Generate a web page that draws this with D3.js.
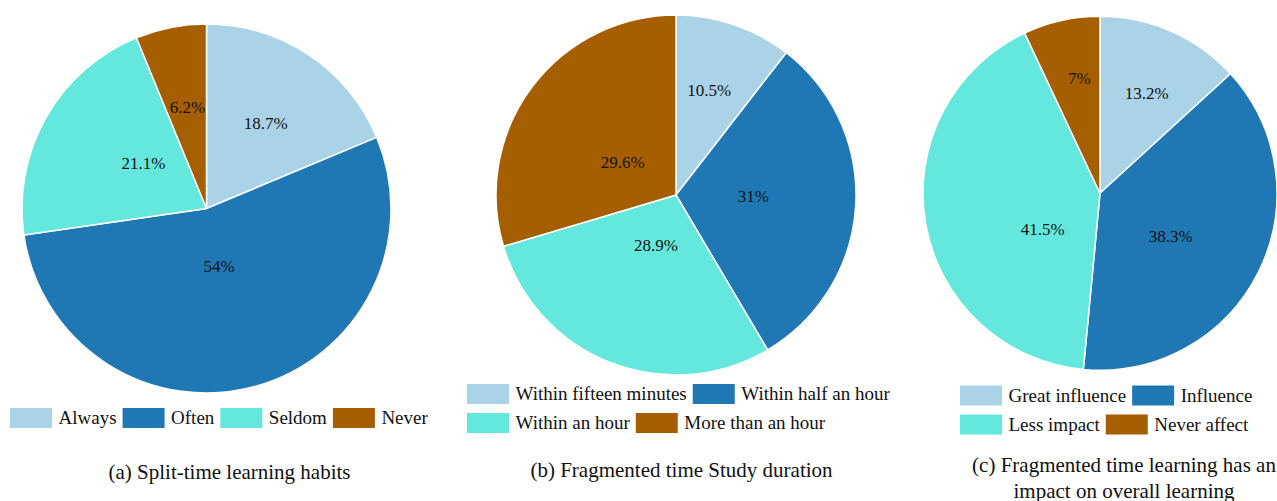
<!DOCTYPE html>
<html>
<head>
<meta charset="utf-8">
<script src="https://cdn.jsdelivr.net/npm/d3@7"></script>
<style>
  html, body { margin: 0; padding: 0; background: #fff; }
  svg { display: block; font-family: "Liberation Serif", "Times New Roman", serif; }
</style>
</head>
<body>
<svg id="chart"></svg>
<script>
// ── DATA ────────────────────────────────────────────────────────────────
const habitCats    = ["Always", "Often", "Seldom", "Never"];
const habitPct     = [18.7, 54, 21.1, 6.2];

const durationCats = ["Within fifteen minutes", "Within half an hour", "Within an hour", "More than an hour"];
const durationPct  = [10.5, 31, 28.9, 29.6];

const impactCats   = ["Great influence", "Influence", "Less impact", "Never affect"];
const impactPct    = [13.2, 38.3, 41.5, 7];

const COLORS = ["#abd3e8", "#1f78b4", "#64e8dd", "#a65f00"];

// ── SVG ─────────────────────────────────────────────────────────────────
const W = 1277, H = 501;
const svg = d3.select("#chart")
  .attr("width", W)
  .attr("height", H)
  .attr("viewBox", `0 0 ${W} ${H}`);

// label nudges: [angle shift from slice bisector in degrees, radius fraction]
const panels = [
  {
    cats: habitCats, vals: habitPct,
    cx: 206.5, cy: 208.5, r: 184.5,
    labelAt: [[1.1, 0.562], [3.2, 0.319], [5.9, 0.421], [0.5, 0.558]],
    legendX: 10, legendY: 408, legendMaxW: 440,
    caption: ["(a) Split-time learning habits"], capX: 229.5, capY: 479
  },
  {
    cats: durationCats, vals: durationPct,
    cx: 676, cy: 195, r: 180,
    labelAt: [[-1.3, 0.612], [-2.9, 0.43], [0.4, 0.30], [-5.2, 0.347]],
    legendX: 467, legendY: 384, legendMaxW: 440,
    caption: ["(b) Fragmented time Study duration"], capX: 681.5, capY: 477
  },
  {
    cats: impactCats, vals: impactPct,
    cx: 1100, cy: 193.3, r: 177,
    labelAt: [[1.1, 0.627], [4.6, 0.467], [-22.4, 0.383], [2.4, 0.66]],
    legendX: 960, legendY: 385.5, legendMaxW: 317,
    caption: ["(c) Fragmented time learning has an", "impact on overall learning"], capX: 1124, capY: 472
  }
];

const pie = d3.pie().sort(null).value(d => d);

panels.forEach(p => {
  const color = d3.scaleOrdinal().domain(p.cats).range(COLORS);
  const arcs = pie(p.vals);
  const arc = d3.arc().innerRadius(0).outerRadius(p.r);

  const g = svg.append("g").attr("transform", `translate(${p.cx},${p.cy})`);

  // slices
  g.selectAll("path")
    .data(arcs)
    .join("path")
      .attr("d", arc)
      .attr("fill", (d, i) => color(p.cats[i]))
      .attr("stroke", "#fff")
      .attr("stroke-width", 1.5)
      .attr("stroke-linejoin", "round");

  // percent labels
  g.selectAll("text.pct")
    .data(arcs)
    .join("text")
      .attr("class", "pct")
      .attr("transform", (d, i) => {
        const [shift, f] = p.labelAt[i];
        const a = (d.startAngle + d.endAngle) / 2 + shift * Math.PI / 180;
        const [x, y] = d3.pointRadial(a, p.r * f);
        return `translate(${x},${y})`;
      })
      .attr("text-anchor", "middle")
      .attr("dy", "0.35em")
      .style("font-size", "17px")
      .style("fill", "#111")
      .text(d => d.data + "%");

  // legend (flow layout, wraps at legendMaxW)
  const sw = 42, sh = 20, gapTxt = 6.5, gapItem = 6, rowH = 29;
  const lg = svg.append("g");
  let x = 0, row = 0;
  p.cats.forEach((c, i) => {
    const item = lg.append("g");
    item.append("rect")
      .attr("width", sw).attr("height", sh)
      .attr("fill", color(c));
    const t = item.append("text")
      .attr("x", sw + gapTxt)
      .attr("y", sh / 2)
      .attr("dy", "0.33em")
      .style("font-size", "19px")
      .style("fill", "#111")
      .text(c);
    const w = sw + gapTxt + t.node().getComputedTextLength();
    if (x > 0 && x + w > p.legendMaxW) { x = 0; row++; }
    item.attr("transform", `translate(${p.legendX + x},${p.legendY + row * rowH})`);
    x += w + gapItem;
  });

  // caption
  const cap = svg.append("text")
    .attr("text-anchor", "middle")
    .style("font-size", "21px")
    .style("fill", "#111");
  p.caption.forEach((line, i) => {
    cap.append("tspan")
      .attr("x", p.capX)
      .attr("y", p.capY + i * 26)
      .text(line);
  });
});
</script>
</body>
</html>
